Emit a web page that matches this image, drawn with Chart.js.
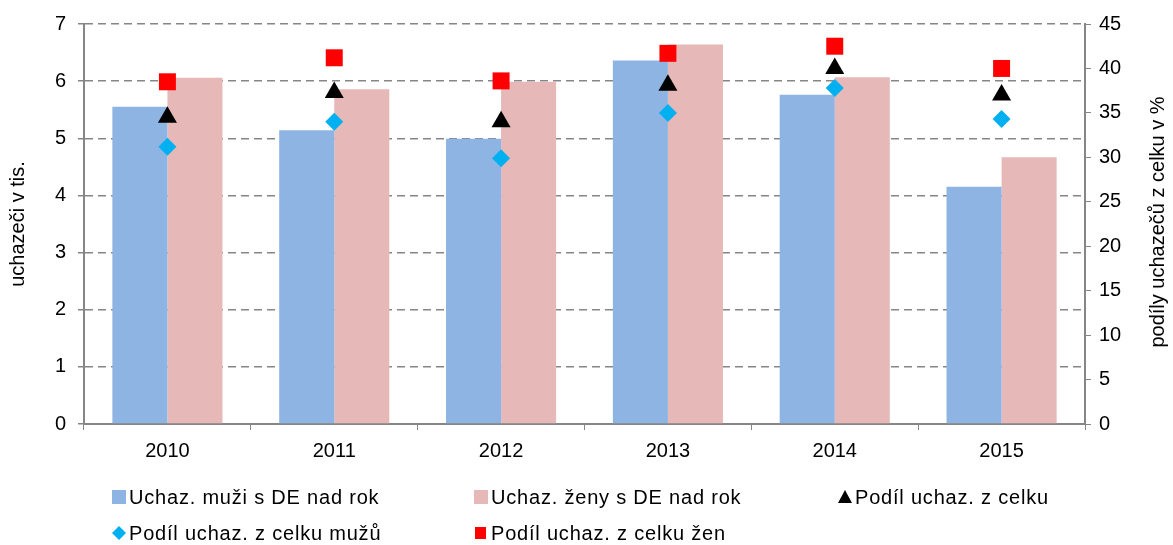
<!DOCTYPE html>
<html>
<head>
<meta charset="utf-8">
<script src="https://cdn.jsdelivr.net/npm/chart.js@4/dist/chart.umd.min.js"></script>
<style>
  html, body { margin: 0; padding: 0; background: #fff; }
  #wrap { width: 1173px; height: 545px; }
</style>
</head>
<body>
<div id="wrap"><canvas id="c" width="1173" height="545"></canvas></div>
<script>
const years = ['2010', '2011', '2012', '2013', '2014', '2015']
const menLong = [5.55, 5.14, 4.99, 6.36, 5.76, 4.15]
const womenLong = [6.06, 5.86, 5.99, 6.64, 6.07, 4.67]
const shareAll = [34.5, 37.3, 34.0, 38.1, 40.0, 37.0]
const shareMen = [31.2, 34.0, 29.9, 35.0, 37.8, 34.3]
const shareWomen = [38.5, 41.2, 38.6, 41.7, 42.5, 40.0]

const labels = [
  'Uchaz. muži s DE nad rok',
  'Uchaz. ženy s DE nad rok',
  'Podíl uchaz. z celku',
  'Podíl uchaz. z celku mužů',
  'Podíl uchaz. z celku žen'
]
const rightTitle = 'podíly uchazečů z celku v %'

const fam = 'Liberation Sans, Arial, sans-serif'
const font = { family: fam, size: 20 }
const axisGrey = '#868686'

// legend in fixed columns + right axis title reading upwards
const extras = {
  id: 'extras',
  afterDraw(chart) {
    const ctx = chart.ctx
    const cols = [112, 474, 838]
    const rows = [497, 533]
    ctx.save()
    ctx.font = '20px ' + fam
    ctx.textBaseline = 'middle'
    ctx.letterSpacing = '0.8px'
    chart.data.datasets.forEach((ds, i) => {
      const x = cols[i % 3], y = rows[Math.floor(i / 3)]
      ctx.fillStyle = ds.legendColor
      if (ds.type === 'bar') {
        ctx.fillRect(x, y - 7, 14, 14)
      } else if (ds.pointStyle === 'triangle') {
        ctx.beginPath(); ctx.moveTo(x + 7, y - 7); ctx.lineTo(x + 14, y + 6); ctx.lineTo(x, y + 6); ctx.fill()
      } else if (ds.pointStyle === 'rectRot') {
        ctx.beginPath(); ctx.moveTo(x + 7, y - 7); ctx.lineTo(x + 14, y); ctx.lineTo(x + 7, y + 7); ctx.lineTo(x, y); ctx.fill()
      } else {
        ctx.fillRect(x + 1, y - 6, 11, 12)
      }
      ctx.fillStyle = '#000'
      ctx.fillText(ds.label, x + 17, y + 1)
    })
    ctx.letterSpacing = '0px'
    ctx.translate(1158, 222)
    ctx.rotate(-Math.PI / 2)
    ctx.textAlign = 'center'
    ctx.fillText(rightTitle, 0, 0)
    ctx.restore()
  }
}

new Chart(document.getElementById('c').getContext('2d'), {
  type: 'bar',
  data: {
    labels: years,
    datasets: [
      { type: 'bar', label: labels[0], data: menLong, yAxisID: 'y', backgroundColor: '#8EB4E3',
        legendColor: '#8EB4E3', barPercentage: 1, categoryPercentage: 0.66, order: 2 },
      { type: 'bar', label: labels[1], data: womenLong, yAxisID: 'y', backgroundColor: '#E6B9B8',
        legendColor: '#E6B9B8', barPercentage: 1, categoryPercentage: 0.66, order: 2 },
      { type: 'line', label: labels[2], data: shareAll, yAxisID: 'y1', showLine: false,
        pointStyle: 'triangle', pointRadius: 11, backgroundColor: '#000', borderColor: '#000', borderWidth: 0,
        legendColor: '#000', order: 1 },
      { type: 'line', label: labels[3], data: shareMen, yAxisID: 'y1', showLine: false,
        pointStyle: 'rectRot', pointRadius: 9, backgroundColor: '#00B0F0', borderColor: '#00B0F0', borderWidth: 0,
        legendColor: '#00B0F0', order: 1 },
      { type: 'line', label: labels[4], data: shareWomen, yAxisID: 'y1', showLine: false,
        pointStyle: 'rect', pointRadius: 12, backgroundColor: '#FF0000', borderColor: '#FF0000', borderWidth: 0,
        legendColor: '#FF0000', order: 1 }
    ]
  },
  options: {
    responsive: false,
    animation: false,
    layout: { padding: { top: 24, bottom: 81, left: 0, right: 0 } },
    plugins: { legend: { display: false }, tooltip: { enabled: false } },
    scales: {
      x: {
        grid: { offset: true, drawOnChartArea: false, color: axisGrey, tickLength: 6 },
        border: { color: axisGrey, width: 2 },
        ticks: { color: '#000', font: font, padding: 9 },
        afterFit(s) { s.height = 40 }
      },
      y: {
        position: 'left', min: 0, max: 7,
        ticks: { stepSize: 1, color: '#000', font: font, padding: 12 },
        grid: { color: axisGrey, lineWidth: 1.5, tickLength: 6, tickColor: axisGrey, tickBorderDash: [] },
        border: { color: axisGrey, width: 2, dash: [8, 5] },
        title: { display: true, text: 'uchazeči v tis.', color: '#000', font: font, padding: 6 },
        afterFit(s) { s.width = 84 }
      },
      y1: {
        position: 'right', min: 0, max: 45,
        ticks: { stepSize: 5, color: '#000', font: font, padding: 8 },
        grid: { drawOnChartArea: false, color: axisGrey, tickLength: 6 },
        border: { color: axisGrey, width: 2 },
        afterFit(s) { s.width = 88 }
      }
    }
  },
  plugins: [extras]
})
</script>
</body>
</html>
